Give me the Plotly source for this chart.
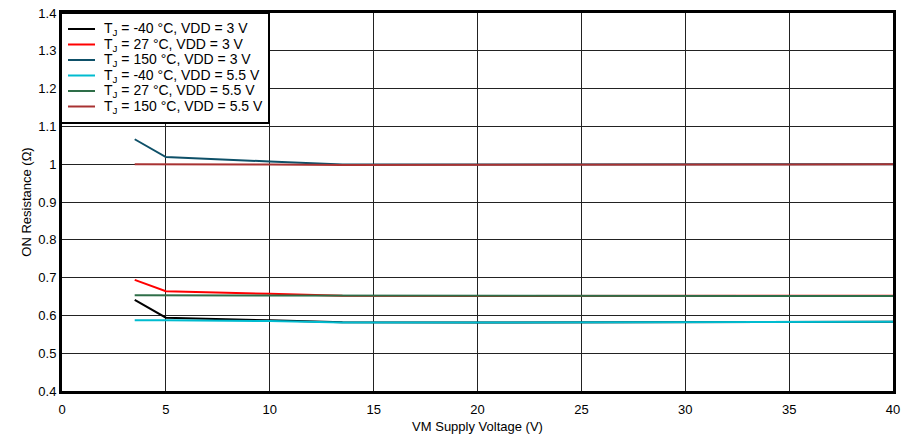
import plotly.graph_objects as go

vm = [3.5, 5, 10, 13.5, 20, 25, 30, 35, 40]
r_m40_3 = [0.641, 0.594, 0.587, 0.582, 0.581, 0.581, 0.581, 0.582, 0.583]
r_27_3 = [0.694, 0.664, 0.657, 0.652, 0.651, 0.651, 0.651, 0.651, 0.652]
r_150_3 = [1.066, 1.019, 1.007, 0.999, 0.999, 0.999, 0.999, 1.0, 1.0]
r_m40_55 = [0.587, 0.587, 0.585, 0.581, 0.581, 0.581, 0.582, 0.582, 0.583]
r_27_55 = [0.653, 0.653, 0.652, 0.651, 0.651, 0.651, 0.651, 0.651, 0.651]
r_150_55 = [1.0, 1.0, 0.999, 0.998, 0.998, 0.998, 0.999, 0.999, 1.0]

names = [
    "T<sub>J</sub> = -40 °C, VDD = 3 V",
    "T<sub>J</sub> = 27 °C, VDD = 3 V",
    "T<sub>J</sub> = 150 °C, VDD = 3 V",
    "T<sub>J</sub> = -40 °C, VDD = 5.5 V",
    "T<sub>J</sub> = 27 °C, VDD = 5.5 V",
    "T<sub>J</sub> = 150 °C, VDD = 5.5 V",
]
series = [r_m40_3, r_27_3, r_150_3, r_m40_55, r_27_55, r_150_55]
colors = ["#000000", "#ff0000", "#0e5068", "#00bcd0", "#2e6e48", "#a83232"]

fig = go.Figure()
for n, s, c in zip(names, series, colors):
    fig.add_trace(go.Scatter(x=vm, y=s, mode="lines", name=n,
                             line=dict(color=c, width=2)))

# Legend box (drawn manually to match compact spacing)
shapes = [dict(type="rect", xref="paper", yref="paper", layer="above",
               xsizemode="pixel", ysizemode="pixel", xanchor=0, yanchor=1,
               x0=-1, x1=207, y0=0, y1=-110,
               line=dict(color="#000", width=2), fillcolor="white")]
annotations = []
for i, (n, c) in enumerate(zip(names, colors)):
    yc = -16 - i * 15.5
    shapes.append(dict(type="line", xref="paper", yref="paper", layer="above",
                       xsizemode="pixel", ysizemode="pixel", xanchor=0, yanchor=1,
                       x0=6, x1=33, y0=yc, y1=yc, line=dict(color=c, width=2)))
    annotations.append(dict(xref="paper", yref="paper", x=0, y=1, xshift=40, yshift=yc,
                            xanchor="left", yanchor="middle", showarrow=False, text=n,
                            font=dict(family="Liberation Sans, Arial, sans-serif", size=14, color="#000")))

axis_font = dict(family="Liberation Sans, Arial, sans-serif", size=13, color="#000")
fig.update_layout(
    width=904, height=434,
    margin=dict(l=62, r=11, t=13, b=43),
    paper_bgcolor="white", plot_bgcolor="white",
    font=dict(family="Liberation Sans, Arial, sans-serif", size=13, color="#000"),
    showlegend=False,
    shapes=shapes, annotations=annotations,
    xaxis=dict(range=[0, 40], dtick=5, tick0=0, showgrid=True, gridcolor="#222",
               gridwidth=1, zeroline=False, showline=True, linecolor="#000",
               linewidth=3, mirror=True, ticks="", tickfont=axis_font, automargin=False,
               ticklabelstandoff=4,
               title=dict(text="VM Supply Voltage (V)", font=axis_font, standoff=7)),
    yaxis=dict(range=[0.4, 1.4], dtick=0.1, tick0=0.4, showgrid=True, gridcolor="#222",
               gridwidth=1, zeroline=False, showline=True, linecolor="#000",
               linewidth=3, mirror=True, ticks="", tickfont=axis_font, automargin=False,
               tickformat="~g",
               title=dict(text="ON Resistance (Ω)", font=axis_font, standoff=4)),
)
fig.write_html("out.html", config={"displayModeBar": False},
               post_script="document.body.style.margin='0';document.body.style.overflow='hidden';")
